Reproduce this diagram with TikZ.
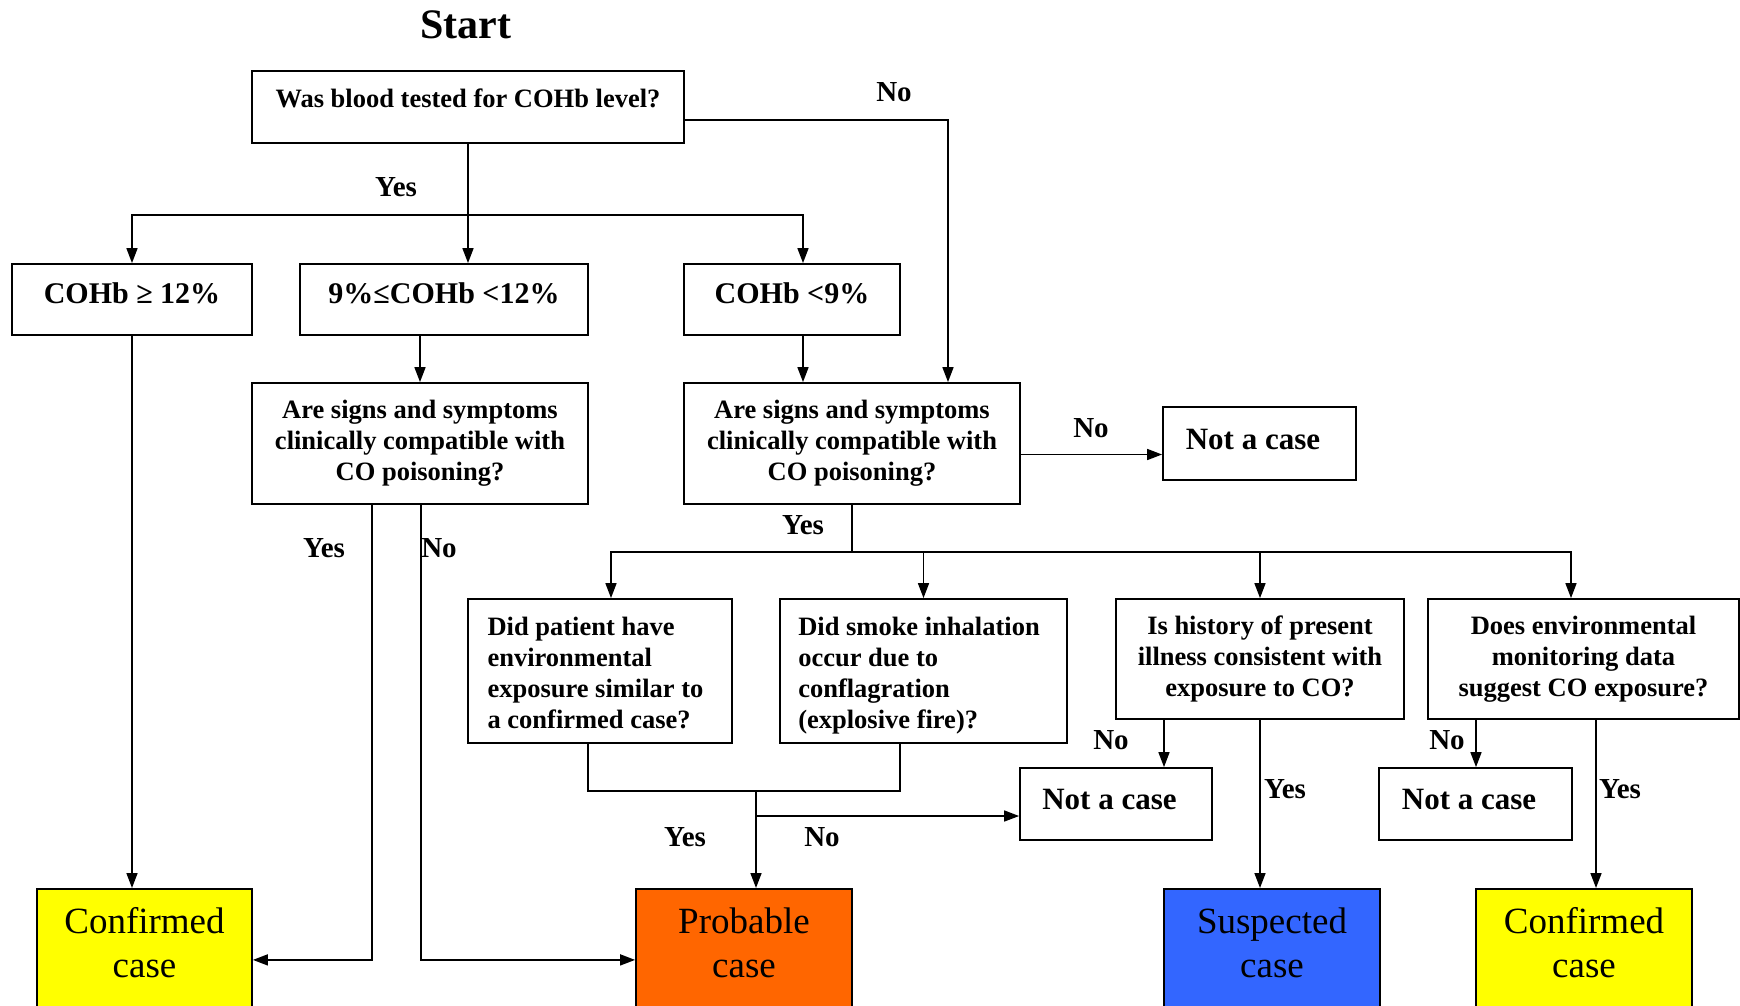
\documentclass[tikz,border=0pt]{standalone}
\usepackage{fontspec}
\setmainfont{Liberation Serif}
\usetikzlibrary{arrows.meta}
\newcommand\qfont{\bfseries\fontsize{26.5}{31}\selectfont}
\newcommand\cfont{\bfseries\fontsize{30}{35}\selectfont}
\newcommand\nfont{\bfseries\fontsize{31}{36}\selectfont}
\newcommand\lfont{\bfseries\fontsize{29}{34}\selectfont}
\newcommand\kfont{\fontsize{37}{44}\selectfont}
\newcommand\rb[2]{\raisebox{#1}[0pt][0pt]{#2}}
\newcommand\twol[2]{\rb{26.5pt}{\begin{tabular}[t]{@{}c@{}}#1\\#2\end{tabular}}}
\newcommand\fourl[4]{\rb{36pt}{\begin{tabular}[t]{@{}l@{}}#1\\#2\\#3\\#4\end{tabular}}\hspace*{9pt}}
\definecolor{cyel}{HTML}{FFFF00}
\definecolor{corg}{HTML}{FF6600}
\definecolor{cblu}{HTML}{3366FF}
\begin{document}
\begin{tikzpicture}[x=1pt,y=-1pt,
  box/.style={draw, line width=1.8pt, inner sep=0pt, align=center, font=\qfont},
  leftbox/.style={box},
  cbox/.style={box, font=\cfont},
  nbox/.style={box, font=\nfont},
  kbox/.style={draw, line width=1.8pt, inner sep=0pt, anchor=north, minimum width=216pt, minimum height=142pt, font=\kfont},
  lbl/.style={font=\lfont, inner sep=0pt},
  ln/.style={line width=1.6pt},
  arr/.style={line width=1.6pt, -{Triangle[width=11pt,length=15pt]}}]
\useasboundingbox (0,0) rectangle (1740,1005);
\clip (0,0) rectangle (1740,1005);
\fill[white] (0,0) rectangle (1740,1005);

\node[font=\bfseries\fontsize{42}{48}\selectfont] (start) at (466,25) {Start};
\node[box, minimum width=432pt, minimum height=72pt] (box1) at (468,107) {\rb{0pt}{Was blood tested for COHb level?}};

\node[cbox, minimum width=240pt, minimum height=71pt] (c12) at (132,299.5) {\rb{-4pt}{COHb ≥ 12\%}};
\node[cbox, minimum width=288pt, minimum height=71pt] (c9) at (444,299.5) {\rb{-4pt}{9\%≤COHb <12\%}};
\node[cbox, minimum width=216pt, minimum height=71pt] (clt9) at (792,299.5) {\rb{-4pt}{COHb <9\%}};

\node[box, minimum width=336pt, minimum height=121pt] (signs1) at (420,443.5) {Are signs and symptoms\\clinically compatible with\\CO poisoning?};
\node[box, minimum width=336pt, minimum height=121pt] (signs2) at (852,443.5) {Are signs and symptoms\\clinically compatible with\\CO poisoning?};
\node[nbox, minimum width=193pt, minimum height=73pt] (na1) at (1259.5,443.5) {\rb{-6pt}{Not a case}\hspace*{13pt}};

\node[leftbox, minimum width=264pt, minimum height=144pt] (d1) at (600,671) {\fourl{Did patient have}{environmental}{exposure similar to}{a confirmed case?}};
\node[leftbox, minimum width=287pt, minimum height=144pt] (d2) at (923.5,671) {\fourl{Did smoke inhalation}{occur due to}{conflagration}{(explosive fire)?}};
\node[box, minimum width=288pt, minimum height=120pt] (d3) at (1260,659) {Is history of present\\illness consistent with\\exposure to CO?};
\node[box, minimum width=311pt, minimum height=120pt] (d4) at (1583.5,659) {Does environmental\\monitoring data\\suggest CO exposure?};

\node[nbox, minimum width=192pt, minimum height=72pt] (na2) at (1116,804) {\rb{-5pt}{Not a case}\hspace*{13pt}};
\node[nbox, minimum width=193pt, minimum height=72pt] (na3) at (1475.5,804) {\rb{-5pt}{Not a case}\hspace*{13pt}};

\node[kbox, fill=cyel, minimum width=215pt] (conf1) at (144.5,888) {\twol{Confirmed}{case}};
\node[kbox, fill=corg] (prob) at (744,888) {\twol{Probable}{case}};
\node[kbox, fill=cblu] (susp) at (1272,888) {\twol{Suspected}{case}};
\node[kbox, fill=cyel] (conf2) at (1584,888) {\twol{Confirmed}{case}};

% connectors
\coordinate (j1) at (468,215);
\draw[ln] (box1.south) -- (j1);
\draw[arr] (j1) -| (c12.north);
\draw[arr] (j1) -- (j1 |- c9.north);
\draw[arr] (j1) -| ([xshift=11pt]clt9.north);
\draw[arr] ([yshift=-13pt]box1.east) -| ([xshift=96pt]signs2.north);
\draw[arr] (c12.south) -- (c12.south |- conf1.north);
\draw[arr] (signs1.north |- c9.south) -- (signs1.north);
\draw[arr] ([xshift=11pt]clt9.south) -- ([xshift=11pt]clt9.south |- signs2.north);
\draw[arr] ([yshift=-11pt]signs2.east) -- ([yshift=-11pt]signs2.east -| na1.west);

\coordinate (j2) at (852,552);
\draw[ln] (signs2.south) -- (j2);
\draw[arr] (j2) -| ([xshift=11pt]d1.north);
\draw[arr] (j2) -| (d2.north);
\draw[arr] (j2) -| (d3.north);
\draw[arr] (j2) -| ([xshift=-12.5pt]d4.north);

\coordinate (j3) at (756,791);
\coordinate (j4) at (756,816);
\draw[ln] ([xshift=-12pt]d1.south) |- (j3);
\draw[ln] ([xshift=-23.5pt]d2.south) |- (j3);
\draw[arr] (j3) -- (j3 |- prob.north);
\draw[arr] (j4) -- (j4 -| na2.west);

\draw[arr] ([xshift=-96pt]d3.south) -- ([xshift=-96pt]d3.south |- na2.north);
\draw[arr] (d3.south) -- (d3.south |- susp.north);
\draw[arr] ([xshift=-107.5pt]d4.south) -- ([xshift=-107.5pt]d4.south |- na3.north);
\draw[arr] ([xshift=12.5pt]d4.south) -- ([xshift=12.5pt]d4.south |- conf2.north);

\draw[arr] ([xshift=-48pt]signs1.south) |- (conf1.east);
\draw[arr] ([xshift=1pt]signs1.south) |- (prob.west);

% labels
\node[lbl] (l1) at (894,92) {No};
\node[lbl] (l2) at (396,187) {Yes};
\node[lbl] (l3) at (1091,428) {No};
\node[lbl] (l4) at (324,548) {Yes};
\node[lbl] (l5) at (439,548) {No};
\node[lbl] (l6) at (803,525) {Yes};
\node[lbl] (l7) at (685,837) {Yes};
\node[lbl] (l8) at (822,837) {No};
\node[lbl] (l9) at (1111,740) {No};
\node[lbl] (l10) at (1285,789) {Yes};
\node[lbl] (l11) at (1447,740) {No};
\node[lbl] (l12) at (1620,789) {Yes};
\end{tikzpicture}
\end{document}
